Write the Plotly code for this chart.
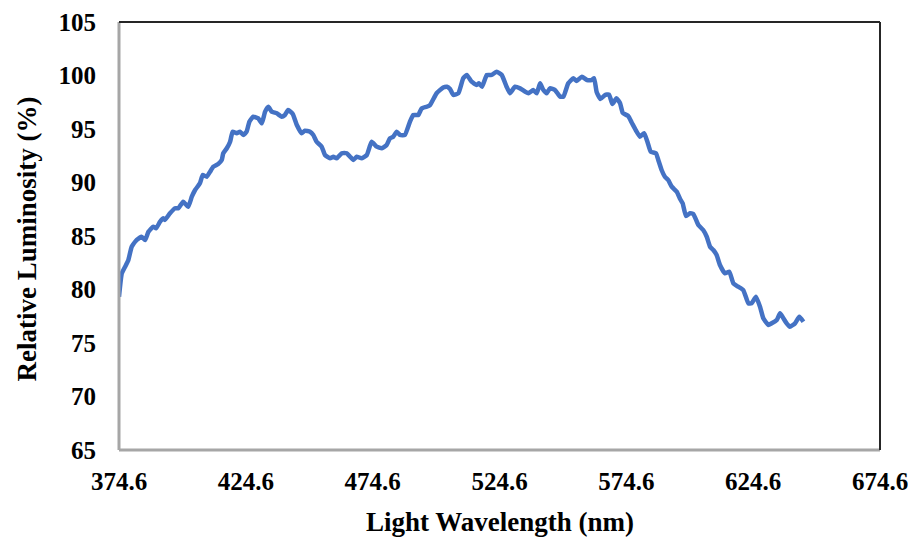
import plotly.graph_objects as go

wavelength = [374.6, 375.7, 377.0, 378.3, 379.6, 381.6, 383.5, 384.9, 386.2, 388.1, 389.2, 390.8, 392.1, 392.7,
              394.7, 396.7, 398.0, 399.9, 401.9, 403.3, 404.6, 406.5, 407.6, 409.2, 410.5, 411.8, 413.7, 415.1,
              415.7, 417.1, 418.4, 419.4, 421.0, 422.3, 423.6, 424.9, 426.0, 427.5, 429.5, 430.9, 432.2, 433.5,
              434.8, 436.8, 438.7, 440.0, 441.3, 443.1, 444.7, 446.6, 447.9, 449.9, 451.2, 452.5, 454.5, 455.8,
              457.8, 459.1, 460.4, 462.4, 464.4, 465.7, 467.0, 468.3, 470.3, 472.3, 474.2, 476.2, 478.2, 480.1,
              481.4, 482.7, 484.1, 485.4, 487.3, 489.3, 490.6, 492.6, 493.9, 495.9, 497.2, 499.8, 502.4, 503.9,
              505.1, 506.4, 508.4, 510.3, 511.7, 513.6, 515.6, 516.5, 517.7, 519.6, 521.5, 523.5, 525.5, 527.4,
              528.7, 530.7, 532.7, 534.7, 536.0, 537.9, 539.3, 540.6, 541.9, 543.2, 544.5, 546.5, 548.5, 549.8,
              551.7, 553.7, 555.0, 557.1, 559.1, 560.9, 561.9, 562.9, 564.4, 566.2, 567.8, 569.1, 570.7, 572.1,
              573.2, 575.3, 576.7, 578.4, 580.0, 581.6, 582.9, 584.2, 586.3, 587.2, 588.5, 589.8, 591.1, 592.5,
              594.5, 595.8, 596.8, 598.1, 599.7, 601.0, 603.0, 604.9, 606.3, 607.6, 608.9, 610.2, 611.5, 613.5,
              615.2, 616.8, 618.7, 620.7, 622.7, 624.0, 625.7, 627.3, 628.6, 630.6, 631.9, 633.9, 635.2, 636.5,
              637.8, 639.1, 641.1, 642.8, 644.4]
luminosity = [79.33, 81.51, 82.13, 82.76, 84.0, 84.63, 84.93, 84.63, 85.4, 85.87, 85.72, 86.34, 86.65, 86.5,
              87.12, 87.59, 87.59, 88.21, 87.74, 88.67, 89.3, 89.93, 90.7, 90.54, 91.01, 91.48, 91.73, 92.1,
              92.73, 93.2, 93.81, 94.75, 94.6, 94.75, 94.44, 94.75, 95.68, 96.15, 96.0, 95.53, 96.62, 97.08,
              96.62, 96.47, 96.15, 96.31, 96.78, 96.4, 95.37, 94.6, 94.84, 94.75, 94.44, 93.81, 93.35, 92.57,
              92.26, 92.41, 92.26, 92.73, 92.73, 92.41, 92.1, 92.41, 92.26, 92.57, 93.81, 93.35, 93.2, 93.5,
              94.13, 94.28, 94.75, 94.44, 94.44, 95.68, 96.31, 96.31, 96.93, 97.08, 97.24, 98.34, 98.88, 98.95,
              98.74, 98.18, 98.34, 99.74, 100.05, 99.42, 99.11, 99.27, 98.95, 100.05, 100.05, 100.36, 100.05, 98.95,
              98.34, 98.95, 98.8, 98.49, 98.34, 98.64, 98.34, 99.27, 98.64, 98.34, 98.8, 98.64, 98.02, 98.02,
              99.27, 99.74, 99.49, 99.89, 99.58, 99.58, 99.74, 98.46, 97.8, 98.18, 98.22, 97.34, 97.87, 97.43,
              96.5, 96.22, 95.61, 94.86, 94.28, 94.6, 93.81, 92.88, 92.73, 92.1, 91.17, 90.54, 90.23, 89.61,
              89.14, 88.46, 88.06, 86.87, 87.12, 87.06, 86.03, 85.56, 84.93, 84.0, 83.69, 83.22, 82.29, 81.51,
              81.66, 80.58, 80.26, 79.95, 78.71, 78.71, 79.33, 78.39, 77.31, 76.68, 76.84, 77.15, 77.78, 77.31,
              76.84, 76.52, 76.84, 77.46, 76.99]

x_ticks = [374.6, 424.6, 474.6, 524.6, 574.6, 624.6, 674.6]
x_tick_text = ["374.6", "424.6", "474.6", "524.6", "574.6", "624.6", "674.6"]
y_ticks = [65, 70, 75, 80, 85, 90, 95, 100, 105]
x_title = "Light Wavelength (nm)"
y_title = "Relative Luminosity (%)"

font_family = "Liberation Serif, Times New Roman, serif"
tick_font = dict(family=font_family, size=25, color="black", weight="bold")
title_font = dict(family=font_family, size=27, color="black")

fig = go.Figure()
fig.add_trace(go.Scatter(
    x=wavelength, y=luminosity, mode="lines",
    line=dict(color="#4472C4", width=4.5, shape="spline", smoothing=0.4),
    showlegend=False, hoverinfo="skip",
))

fig.update_layout(
    width=908, height=540,
    margin=dict(l=119, r=28, t=22, b=90),
    paper_bgcolor="white", plot_bgcolor="white",
    font=dict(family=font_family, color="black", size=25),
    xaxis=dict(
        range=[374.6, 674.6], tickvals=x_ticks, ticktext=x_tick_text,
        showgrid=False, zeroline=False, showline=False, ticks="",
        ticklabelstandoff=14, automargin=False, ticklabeloverflow="allow",
        tickfont=tick_font,
    ),
    yaxis=dict(
        range=[65, 105], tickvals=y_ticks,
        showgrid=False, zeroline=False, showline=False, ticks="",
        ticklabelstandoff=22, automargin=False, ticklabeloverflow="allow",
        tickfont=tick_font,
    ),
    annotations=[
        dict(text="<b>" + x_title + "</b>", xref="paper", yref="paper",
             x=0.5, y=-0.168, xanchor="center", yanchor="middle",
             showarrow=False, font=title_font),
        dict(text="<b>" + y_title + "</b>", xref="paper", yref="paper",
             x=-0.121, y=0.494, xanchor="center", yanchor="middle", textangle=-90,
             showarrow=False, font=title_font),
    ],
    shapes=[
        dict(type="line", xref="paper", yref="paper", x0=0, x1=0, y0=0, y1=1,
             line=dict(color="#a6a6a6", width=3)),
        dict(type="line", xref="paper", yref="paper", x0=0, x1=1, y0=0, y1=0,
             line=dict(color="#a6a6a6", width=3)),
        dict(type="line", xref="paper", yref="paper", x0=0, x1=1, y0=1, y1=1,
             line=dict(color="#262626", width=2)),
        dict(type="line", xref="paper", yref="paper", x0=1, x1=1, y0=0, y1=1,
             line=dict(color="#262626", width=2)),
    ],
)

fig.write_html("out.html")
